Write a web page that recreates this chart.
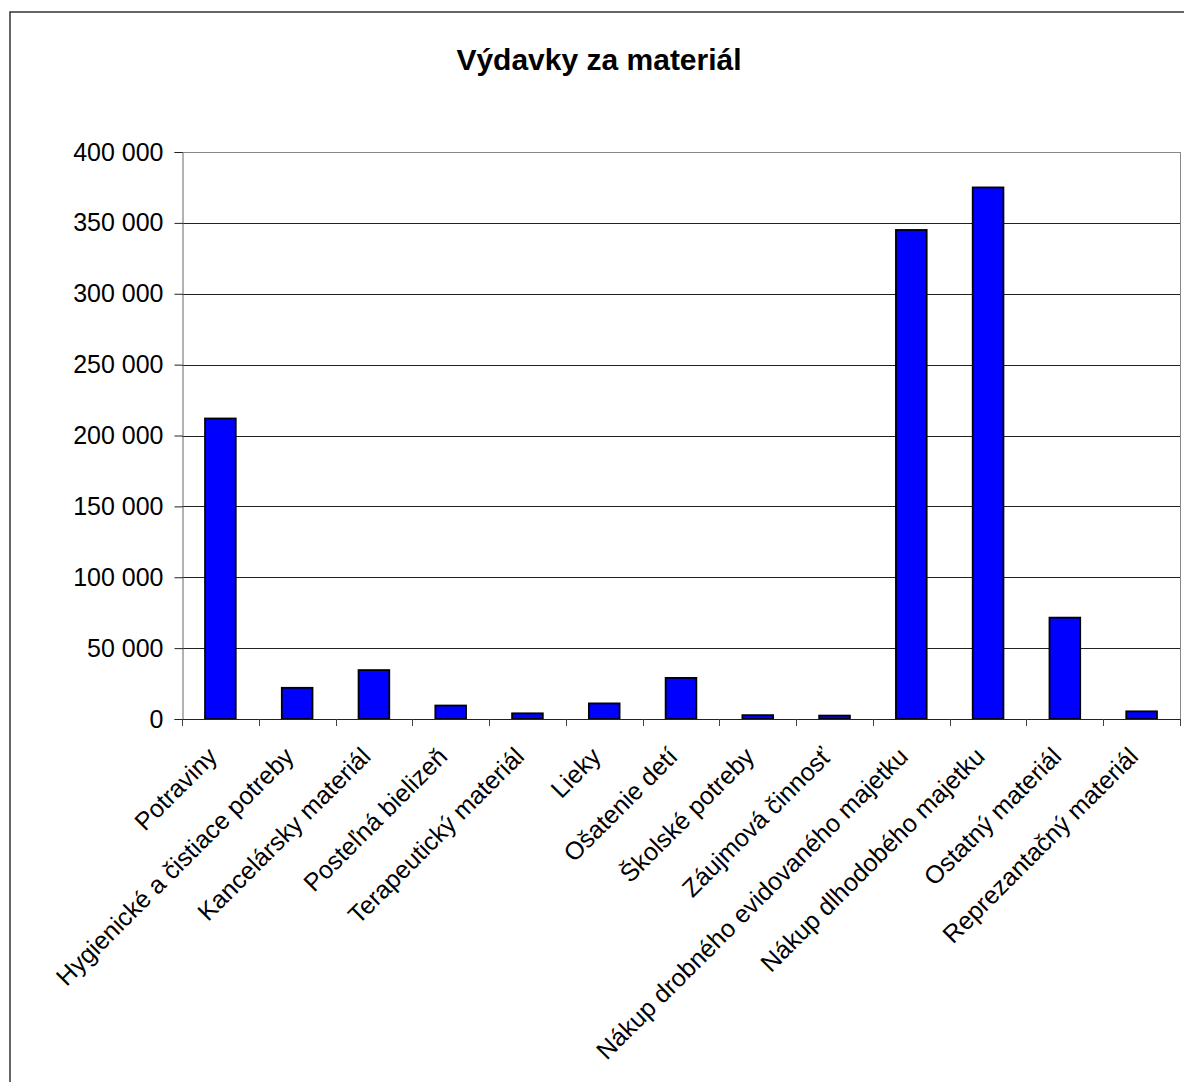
<!DOCTYPE html>
<html>
<head>
<meta charset="utf-8">
<script src="https://cdn.jsdelivr.net/npm/d3@7"></script>
<style>
  body { margin: 0; background: #fff; }
  text { font-family: Arial, "Liberation Sans", sans-serif; }
</style>
</head>
<body>
<div class="chart"></div>
<script>
const categories = [
  "Potraviny",
  "Hygienické a čistiace potreby",
  "Kancelársky materiál",
  "Posteľná bielizeň",
  "Terapeutický materiál",
  "Lieky",
  "Ošatenie detí",
  "Školské potreby",
  "Záujmová činnosť",
  "Nákup drobného evidovaného majetku",
  "Nákup dlhodobého majetku",
  "Ostatný materiál",
  "Reprezantačný materiál",
];
const values = [212000, 22000, 34500, 9500, 4000, 11000, 29000, 2700, 2400, 345000, 375000, 71500, 5400];
const yTicks = [0, 50000, 100000, 150000, 200000, 250000, 300000, 350000, 400000];
const title = "Výdavky za materiál";

const W = 1184, H = 1082;
const plot = { left: 182, top: 152, right: 1180, bottom: 719 };

const svg = d3
  .select(".chart")
  .append("svg")
  .attr("width", W)
  .attr("height", H);

// outer chart border (runs off the right and bottom edges)
svg
  .append("rect")
  .attr("x", 10)
  .attr("y", 12)
  .attr("width", W)
  .attr("height", H)
  .attr("fill", "none")
  .attr("stroke", "#333")
  .attr("stroke-width", 1.5);

svg
  .append("text")
  .attr("x", 599)
  .attr("y", 70)
  .attr("text-anchor", "middle")
  .attr("font-size", "30px")
  .attr("font-weight", "bold")
  .text(title);

const xScale = d3
  .scaleBand()
  .domain(categories)
  .range([plot.left, plot.right])
  .paddingInner(0.6)
  .paddingOuter(0.3);

const yScale = d3
  .scaleLinear()
  .domain([0, 400000])
  .range([plot.bottom, plot.top]);

const fmt = (v) => d3.format(",")(v).replace(/,/g, " ");

// gridlines
svg
  .append("g")
  .selectAll("line")
  .data(yTicks.slice(1))
  .enter()
  .append("line")
  .attr("x1", plot.left)
  .attr("x2", plot.right)
  .attr("y1", (d) => Math.round(yScale(d)) + 0.5)
  .attr("y2", (d) => Math.round(yScale(d)) + 0.5)
  .attr("stroke", (d, i) => (i === yTicks.length - 2 ? "#888" : "#222"))
  .attr("stroke-width", 1);

// plot area right edge
svg
  .append("line")
  .attr("x1", plot.right + 0.5)
  .attr("x2", plot.right + 0.5)
  .attr("y1", plot.top)
  .attr("y2", plot.bottom)
  .attr("stroke", "#888");

// bars
svg
  .append("g")
  .selectAll("rect")
  .data(values)
  .enter()
  .append("rect")
  .attr("x", (d, i) => xScale(categories[i]))
  .attr("y", (d) => yScale(d))
  .attr("width", xScale.bandwidth())
  .attr("height", (d) => plot.bottom - yScale(d))
  .attr("fill", "#0000ff")
  .attr("stroke", "#000")
  .attr("stroke-width", 1.8);

// y axis
const yAxis = d3
  .axisLeft(yScale)
  .tickValues(yTicks)
  .tickSize(8)
  .tickPadding(11)
  .tickFormat(fmt);

const yg = svg
  .append("g")
  .attr("transform", `translate(${plot.left + 0.5},0)`)
  .call(yAxis);
yg.select(".domain").attr("stroke", "#666");
yg.selectAll(".tick line").attr("stroke", "#222");
yg.selectAll(".tick text")
  .attr("font-size", "25px")
  .attr("fill", "#000")
  .style("font-family", "Arial, 'Liberation Sans', sans-serif");

// x axis: ticks between categories
const xEdges = d3.range(categories.length + 1).map((i) => plot.left + i * (plot.right - plot.left) / categories.length);

svg
  .append("line")
  .attr("x1", plot.left)
  .attr("x2", plot.right + 1)
  .attr("y1", plot.bottom + 0.5)
  .attr("y2", plot.bottom + 0.5)
  .attr("stroke", "#222");

svg
  .append("g")
  .selectAll("line")
  .data(xEdges)
  .enter()
  .append("line")
  .attr("x1", (d) => Math.round(d) + 0.5)
  .attr("x2", (d) => Math.round(d) + 0.5)
  .attr("y1", plot.bottom)
  .attr("y2", plot.bottom + 7)
  .attr("stroke", "#444");

// category labels
svg
  .append("g")
  .selectAll("text")
  .data(categories)
  .enter()
  .append("text")
  .attr("transform", (d) => {
    const cx = xScale(d) + xScale.bandwidth() / 2;
    return `translate(${cx - 8},${plot.bottom + 33}) rotate(-45)`;
  })
  .attr("text-anchor", "end")
  .attr("dy", "0.35em")
  .attr("font-size", "25px")
  .text((d) => d);
</script>
</body>
</html>
